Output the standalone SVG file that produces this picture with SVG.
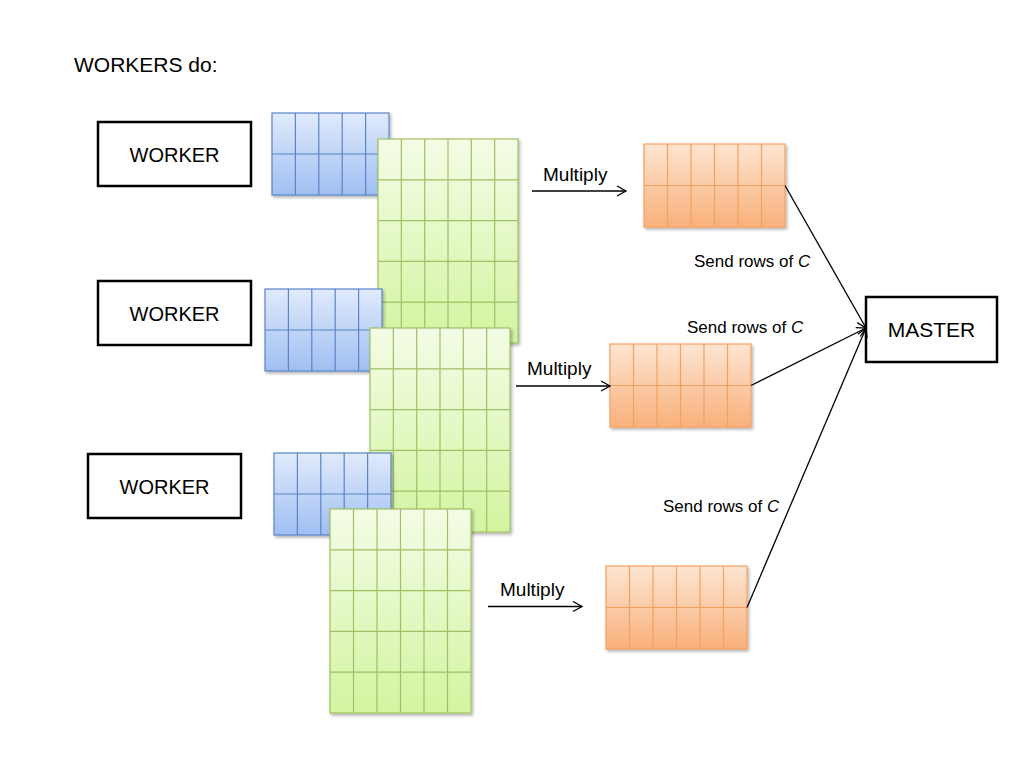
<svg xmlns="http://www.w3.org/2000/svg" width="1024" height="768" viewBox="0 0 1024 768">
<style>
.t{font-family:"Liberation Sans",Arial,sans-serif;fill:#000}
.box{fill:#fff;stroke:#000;stroke-width:2.5}
.blue{fill:url(#gB);stroke:#5b84c8;stroke-width:1.2}
.green{fill:url(#gG);stroke:#9fc063;stroke-width:1.2}
.orange{fill:url(#gO);stroke:#f5a05f;stroke-width:1.2}
.bl{stroke:#5b84c8;stroke-width:1.2;fill:none}
.gl{stroke:#9fc063;stroke-width:1.2;fill:none}
.ol{stroke:#f5a05f;stroke-width:1.2;fill:none}
.con{stroke:#000;stroke-width:1.3;fill:none;marker-end:url(#arr)}
</style>
<defs>
<linearGradient id="gB" x1="0" y1="0" x2="0" y2="1"><stop offset="0" stop-color="#e0eafb"/><stop offset="1" stop-color="#a0bff2"/></linearGradient>
<linearGradient id="gG" x1="0" y1="0" x2="0" y2="1"><stop offset="0" stop-color="#f4fce6"/><stop offset="1" stop-color="#d3f4a0"/></linearGradient>
<linearGradient id="gO" x1="0" y1="0" x2="0" y2="1"><stop offset="0" stop-color="#fde5d2"/><stop offset="1" stop-color="#f9b07b"/></linearGradient>
<filter id="sh" x="-10%" y="-10%" width="130%" height="130%"><feDropShadow dx="1.5" dy="2" stdDeviation="1.5" flood-color="#000" flood-opacity="0.3"/></filter>
<marker id="arr" markerWidth="12" markerHeight="12" refX="10" refY="6" orient="auto" markerUnits="userSpaceOnUse"><path d="M1,1 L10,6 L1,11" fill="none" stroke="#000" stroke-width="1.3"/></marker>
</defs>

<text class="t" x="74" y="72" font-size="21">WORKERS do:</text>

<g id="worker1"><rect class="box" x="98" y="122" width="153" height="64"/><text class="t" x="174.5" y="162" font-size="20" text-anchor="middle">WORKER</text></g>
<g id="worker2"><rect class="box" x="98" y="281" width="153" height="64"/><text class="t" x="174.5" y="321" font-size="20" text-anchor="middle">WORKER</text></g>
<g id="worker3"><rect class="box" x="88" y="454" width="153" height="64"/><text class="t" x="164.5" y="494" font-size="20" text-anchor="middle">WORKER</text></g>
<g id="master"><rect class="box" x="866" y="297" width="131" height="65"/><text class="t" x="931.5" y="337" font-size="21" text-anchor="middle">MASTER</text></g>

<g id="blue1" filter="url(#sh)"><rect class="blue" x="272" y="113" width="117" height="82"/><path class="bl" d="M295.4,113V195M318.8,113V195M342.2,113V195M365.6,113V195M272,154H389"/></g>
<g id="green1" filter="url(#sh)"><rect class="green" x="378" y="139" width="140" height="204"/><path class="gl" d="M401.3,139V343M424.7,139V343M448,139V343M471.3,139V343M494.7,139V343M378,179.8H518M378,220.6H518M378,261.4H518M378,302.2H518"/></g>
<g id="blue2" filter="url(#sh)"><rect class="blue" x="265" y="289" width="117" height="82"/><path class="bl" d="M288.4,289V371M311.8,289V371M335.2,289V371M358.6,289V371M265,330H382"/></g>
<g id="green2" filter="url(#sh)"><rect class="green" x="370" y="328" width="140" height="204"/><path class="gl" d="M393.3,328V532M416.7,328V532M440,328V532M463.3,328V532M486.7,328V532M370,368.8H510M370,409.6H510M370,450.4H510M370,491.2H510"/></g>
<g id="blue3" filter="url(#sh)"><rect class="blue" x="274" y="453" width="117" height="82"/><path class="bl" d="M297.4,453V535M320.8,453V535M344.2,453V535M367.6,453V535M274,494H391"/></g>
<g id="green3" filter="url(#sh)"><rect class="green" x="330" y="509" width="141" height="204"/><path class="gl" d="M353.5,509V713M377,509V713M400.5,509V713M424,509V713M447.5,509V713M330,549.8H471M330,590.6H471M330,631.4H471M330,672.2H471"/></g>

<g id="orange1" filter="url(#sh)"><rect class="orange" x="644" y="144" width="141" height="83"/><path class="ol" d="M667.5,144V227M691,144V227M714.5,144V227M738,144V227M761.5,144V227M644,185.5H785"/></g>
<g id="orange2" filter="url(#sh)"><rect class="orange" x="610" y="344" width="141" height="83"/><path class="ol" d="M633.5,344V427M657,344V427M680.5,344V427M704,344V427M727.5,344V427M610,385.5H751"/></g>
<g id="orange3" filter="url(#sh)"><rect class="orange" x="606" y="566" width="141" height="83"/><path class="ol" d="M629.5,566V649M653,566V649M676.5,566V649M700,566V649M723.5,566V649M606,607.5H747"/></g>

<g id="connectors">
<line class="con" x1="532" y1="191" x2="626" y2="191"/>
<line class="con" x1="516" y1="386" x2="610" y2="386"/>
<line class="con" x1="488" y1="606.5" x2="582" y2="606.5"/>
<line class="con" x1="785" y1="185.5" x2="866" y2="328"/>
<line class="con" x1="751" y1="385.5" x2="866" y2="328"/>
<line class="con" x1="747" y1="607.5" x2="866" y2="328"/>
<text class="t" x="543" y="181" font-size="19">Multiply</text>
<text class="t" x="527" y="375" font-size="19">Multiply</text>
<text class="t" x="500" y="596" font-size="19">Multiply</text>
<text class="t" x="694" y="267" font-size="17">Send rows of <tspan font-style="italic">C</tspan></text>
<text class="t" x="687" y="333" font-size="17">Send rows of <tspan font-style="italic">C</tspan></text>
<text class="t" x="663" y="512" font-size="17">Send rows of <tspan font-style="italic">C</tspan></text>
</g>
</svg>
